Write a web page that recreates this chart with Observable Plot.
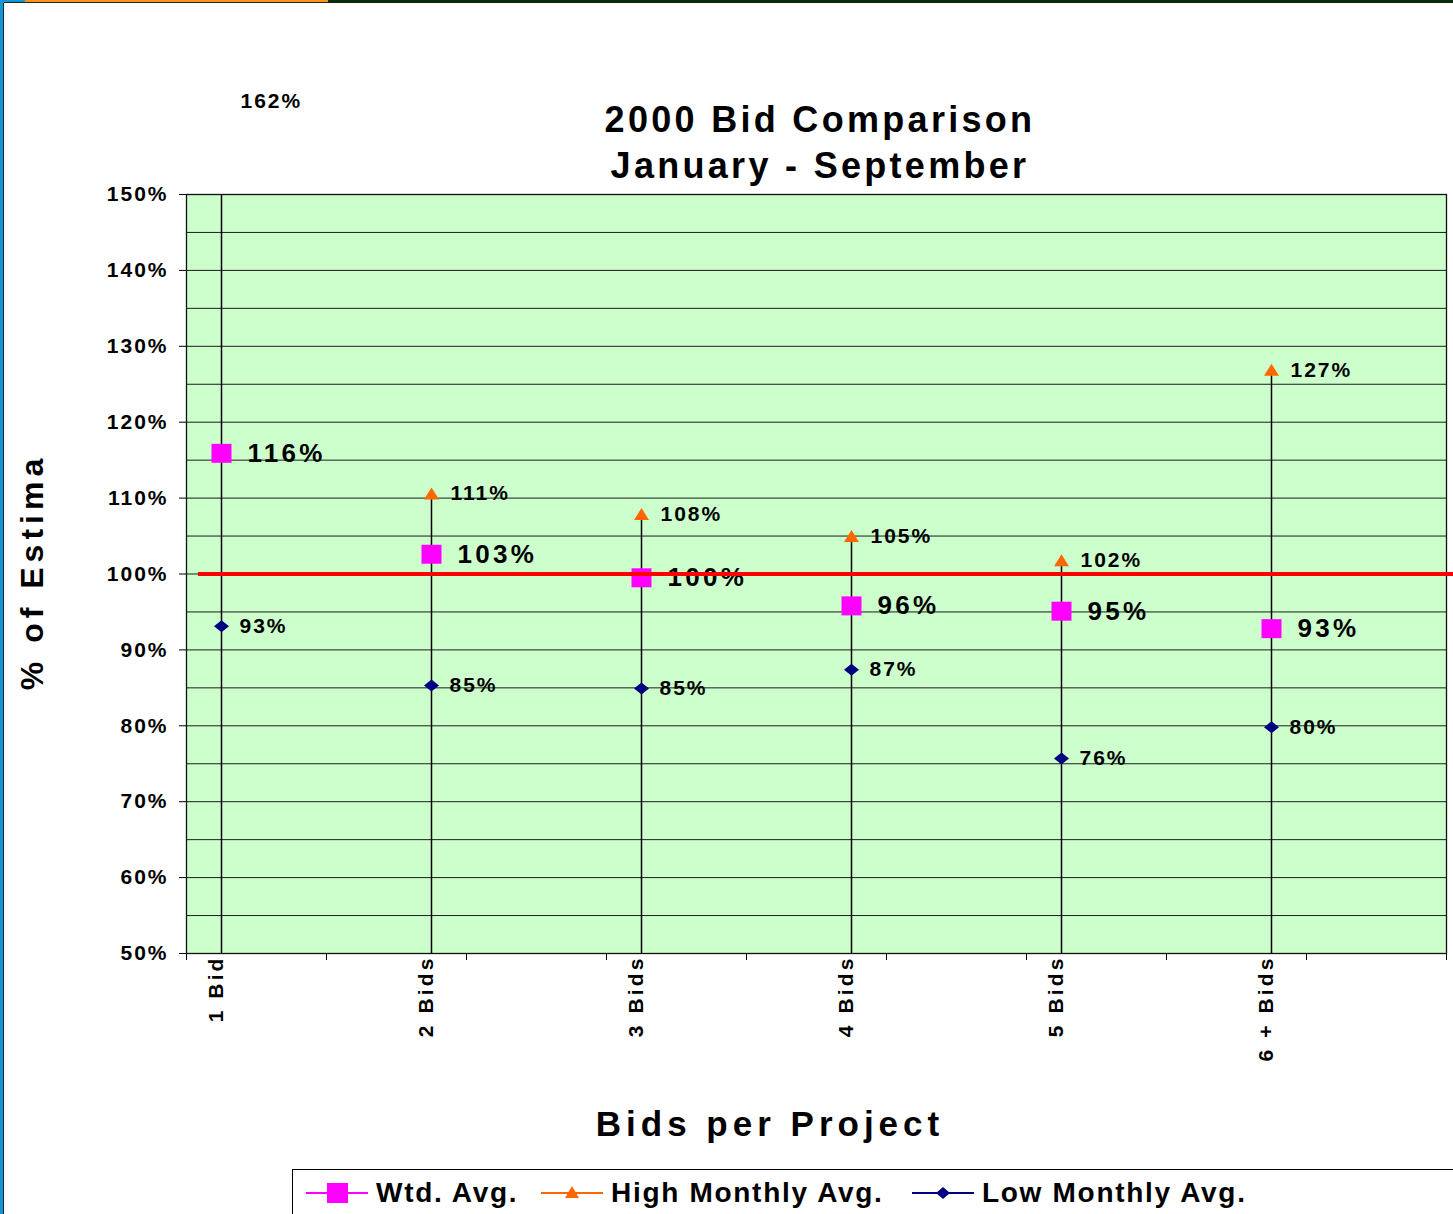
<!DOCTYPE html>
<html>
<head>
<meta charset="utf-8">
<script src="https://cdn.jsdelivr.net/npm/d3@7"></script>
<script src="https://cdn.jsdelivr.net/npm/@observablehq/plot@0.6"></script>
<style>
  html, body { margin: 0; padding: 0; background: #fff; }
  #page { position: relative; width: 1453px; height: 1214px; overflow: hidden; background: #fff;
          font-family: "Liberation Sans", Arial, sans-serif; font-weight: bold; color: #000; }
  #chart { position: absolute; left: 0; top: 0; }
  #chart svg text { letter-spacing: 2px; }
  #chart svg text[aria-label="xlabels"] { letter-spacing: 3.1px; }
  #chart svg text[aria-label="wtdlabels"] { letter-spacing: 3.3px; }
  .abs { position: absolute; white-space: nowrap; }
  #title { left: 420px; width: 800px; top: 97px; text-align: center; font-size: 36px; line-height: 46px; letter-spacing: 3.3px; }
  #ylabel { left: -168px; width: 400px; top: 552px; height: 40px; line-height: 40px; text-align: center;
            font-size: 32px; letter-spacing: 5px; transform: rotate(-90deg); transform-origin: center; }
  #xlabel { left: 470px; width: 600px; top: 1104px; text-align: center; font-size: 35px; line-height: 40px; letter-spacing: 5px; }
  #legend { left: 292px; top: 1169px; width: 1300px; height: 100px; border: 1px solid #000; box-sizing: border-box; }
  #legend .item { position: absolute; top: 5px; display: flex; align-items: center; font-size: 28px; letter-spacing: 1.7px; line-height: 36px; }
  #legend .item svg { margin-right: 8px; }
</style>
</head>
<body>
<div id="page">
  <div class="abs" style="left:0;top:0;width:3px;height:1214px;background:#1496d2"></div>
  <div class="abs" style="left:3px;top:0;width:1px;height:1214px;background:#0b2a3a"></div>
  <div class="abs" style="left:0;top:0;width:25px;height:3px;background:#1496d2"></div>
  <div class="abs" style="left:25px;top:0;width:303px;height:2px;background:#f7941d"></div>
  <div class="abs" style="left:328px;top:0;width:1125px;height:3px;background:#0a2a0a"></div>
  <div class="abs" style="left:4px;top:2px;width:324px;height:1px;background:#222"></div>
  <div id="chart"></div>
  <div id="title" class="abs">2000 Bid Comparison<br>January - September</div>
  <div id="ylabel" class="abs">% of Estima</div>
  <div id="xlabel" class="abs">Bids per Project</div>
  <div id="legend" class="abs"></div>
</div>
<script>
// ---------------- data ----------------
const categories = ["1 Bid", "2 Bids", "3 Bids", "4 Bids", "5 Bids", "6 + Bids"];
const wtdAvg = [115.9, 102.6, 99.5, 95.8, 95.1, 92.8];
const highMonthlyAvg = [162.3, 110.6, 107.9, 105.0, 101.8, 126.9];
const lowMonthlyAvg = [93.1, 85.3, 84.9, 87.4, 75.7, 79.8];
const yTicks = [50, 60, 70, 80, 90, 100, 110, 120, 130, 140, 150];
const gridValues = [50, 55, 60, 65, 70, 75, 80, 85, 90, 95, 100, 105, 110, 115, 120, 125, 130, 135, 140, 145, 150];
const referenceValue = 100;
const seriesNames = ["Wtd. Avg.", "High Monthly Avg.", "Low Monthly Avg."];
const seriesColors = ["#ff00ff", "#ff6600", "#000080"];

// ---------------- layout (category axis spacing mimics the original) ----------------
const X_DOMAIN = [-1 / 6, 5 + 5 / 6];
const xTicks = [-1/6, 1/2, 7/6, 11/6, 5/2, 19/6, 23/6, 9/2, 31/6, 35/6];
const REF_X1 = -0.11, REF_X2 = 5.87;
const legendLeft = [13, 248, 619];

const rows = categories.map((c, i) => ({i, c, wtd: wtdAvg[i], high: highMonthlyAvg[i], low: lowMonthlyAvg[i]}));
const pct = v => `${Math.round(v)}%`;

// custom symbols
const squareSym = {draw(ctx, size) { const k = Math.sqrt(size / Math.PI); const h = k * 0.95; ctx.moveTo(-k, -h); ctx.lineTo(k, -h); ctx.lineTo(k, h); ctx.lineTo(-k, h); ctx.closePath(); }};
const triSym = {draw(ctx, size) { const k = Math.sqrt(size / Math.PI); ctx.moveTo(0, -0.8 * k); ctx.lineTo(k, 0.8 * k); ctx.lineTo(-k, 0.8 * k); ctx.closePath(); }};
const diaSym = {draw(ctx, size) { const k = Math.sqrt(size / Math.PI); ctx.moveTo(0, -0.8 * k); ctx.lineTo(k, 0); ctx.lineTo(0, 0.8 * k); ctx.lineTo(-k, 0); ctx.closePath(); }};

const chart = Plot.plot({
  width: 1453,
  height: 1214,
  marginTop: 194,
  marginLeft: 186,
  marginRight: 7,
  marginBottom: 261,
  x: {type: "linear", domain: X_DOMAIN, axis: null},
  y: {type: "linear", domain: [50, 150], axis: null},
  style: {fontFamily: "'Liberation Sans', Arial, sans-serif", fontWeight: "bold", fontSize: "21px", color: "#000", background: "transparent", overflow: "visible"},
  marks: [
    Plot.frame({fill: "#ccffcc"}),
    Plot.ruleY(gridValues, {stroke: "#1c1c1c", strokeWidth: 1}),
    Plot.frame({stroke: "#111", strokeWidth: 1.3}),
    Plot.axisY({ticks: yTicks, tickFormat: d => `${d}%`, tickSize: 7, tickPadding: 11, label: null, fontSize: 21, fontWeight: "bold"}),
    Plot.axisX({ticks: xTicks, tickSize: 7, tickFormat: () => "", label: null}),
    Plot.text(rows, {x: "i", text: "c", frameAnchor: "bottom", rotate: -90, textAnchor: "end", lineAnchor: "bottom", dx: 1, dy: 2, fontSize: 21, fontWeight: "bold", ariaLabel: () => "xlabels"}),
    Plot.ruleX(rows, {x: "i", y1: 50, y2: "high", stroke: "#000", strokeWidth: 1.5, clip: "frame"}),
    Plot.dot(rows, {x: "i", y: "high", symbol: triSym, r: 7.5, fill: seriesColors[1], clip: "frame"}),
    Plot.dot(rows, {x: "i", y: "low", symbol: diaSym, r: 7.5, fill: seriesColors[2]}),
    Plot.dot(rows, {x: "i", y: "wtd", symbol: squareSym, r: 10, fill: seriesColors[0]}),
    Plot.text(rows, {x: "i", y: "high", text: d => pct(d.high), textAnchor: "start", dx: 19, fontSize: 21, fontWeight: "bold"}),
    Plot.text(rows, {x: "i", y: "low", text: d => pct(d.low), textAnchor: "start", dx: 18, fontSize: 21, fontWeight: "bold"}),
    Plot.text(rows, {x: "i", y: "wtd", text: d => pct(d.wtd), textAnchor: "start", dx: 26, fontSize: 26, fontWeight: "bold", ariaLabel: () => "wtdlabels"}),
    Plot.ruleY([referenceValue], {x1: REF_X1, x2: REF_X2, stroke: "#ff0000", strokeWidth: 4})
  ]
});
document.getElementById("chart").appendChild(chart);

// ---------------- legend ----------------
const legendSymbols = [
  `<rect x="21" y="4" width="21" height="20" fill="${seriesColors[0]}"/>`,
  `<path d="M31 7 L38 19 L24 19 Z" fill="${seriesColors[1]}"/>`,
  `<path d="M31 8 L38 14 L31 20 L24 14 Z" fill="${seriesColors[2]}"/>`
];
const legend = document.getElementById("legend");
seriesNames.forEach((name, k) => {
  const div = document.createElement("div");
  div.className = "item";
  div.style.left = legendLeft[k] + "px";
  div.innerHTML = `<svg width="62" height="28" viewBox="0 0 62 28"><line x1="0" x2="62" y1="14" y2="14" stroke="${seriesColors[k]}" stroke-width="2"/>${legendSymbols[k]}</svg><span>${name}</span>`;
  legend.appendChild(div);
});
</script>
</body>
</html>
